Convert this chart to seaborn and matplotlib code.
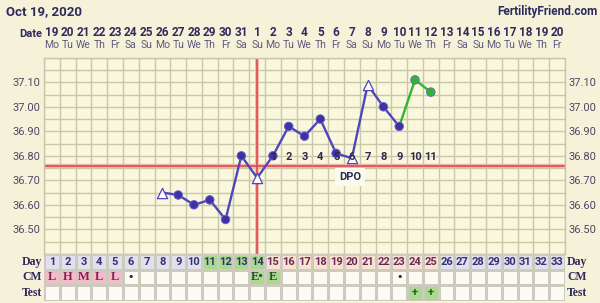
import numpy as np
import pandas as pd
import matplotlib
matplotlib.use("Agg")
import matplotlib.pyplot as plt
import seaborn as sns
from matplotlib.colors import ListedColormap
from matplotlib.transforms import blended_transform_factory

# ---------------- data ----------------
cycle_days = list(range(1, 34))
date_labels = [str(d) for d in range(19, 32)] + [str(d) for d in range(1, 21)]
weekday_labels = (["Mo", "Tu", "We", "Th", "Fr", "Sa", "Su"] * 5)[:33]

temp_days = list(range(8, 26))
temps = [36.65, 36.64, 36.60, 36.62, 36.54, 36.80, 36.71, 36.80, 36.92,
         36.88, 36.95, 36.81, 36.79, 37.09, 37.00, 36.92, 37.11, 37.06]
open_days = [8, 14, 20, 21]
green_days = [23, 24, 25]
coverline = 36.76
ovulation_day = 14

dpo_days = list(range(15, 26))
dpo_labels = [str(i) for i in range(1, 12)]

y_ticks = [36.50, 36.60, 36.70, 36.80, 36.90, 37.00, 37.10]

day_group = [1] * 10 + [2] * 4 + [3] * 11 + [1] * 8
cm_labels = ["L", "H", "M", "L", "L", "•"] + [""] * 7 + ["E•", "E"] + [""] * 7 + ["•"] + [""] * 10
cm_group = [4] * 5 + [0] * 8 + [2] * 2 + [0] * 18
test_labels = [""] * 23 + ["+", "+"] + [""] * 8
test_group = [0] * 23 + [2] * 2 + [0] * 8

# ---------------- style ----------------
sns.set_style("white")
plt.rcParams["font.family"] = ["Roboto", "DejaVu Sans"]

W, H = 600, 303
bg = "#f6f2da"
plot_bg = "#faf8dc"
grid_c = "#c9c6aa"
navy = "#2e2a5c"
line_blue = "#4f45bd"
dot_blue = "#3d33a6"
green = "#2fb52f"

fig = plt.figure(figsize=(W / 100, H / 100), dpi=100, facecolor=bg)

top_px, bot_px = 57.8, 253.8
ax = fig.add_axes([44 / W, (H - bot_px) / H, 521 / W, (bot_px - top_px) / H])
ax.set_facecolor(plot_bg)

df = pd.DataFrame({"day": temp_days, "temp": temps})
df["phase"] = np.where(df["day"].isin([24, 25]), "g", "b")

blue_part = df[df["day"] <= 23]
green_part = df[df["day"].isin(green_days)]
sns.lineplot(data=blue_part, x="day", y="temp", color=line_blue, lw=1.7, ax=ax, zorder=3)
sns.lineplot(data=green_part, x="day", y="temp", color=green, lw=1.7, ax=ax, zorder=3)

circ = df[~df["day"].isin(open_days)]
sns.scatterplot(data=circ, x="day", y="temp", hue="phase",
                palette={"b": dot_blue, "g": green}, s=38, edgecolor="#6a62c8",
                linewidth=0.6, legend=False, ax=ax, zorder=4)
tri = df[df["day"].isin(open_days)]
sns.scatterplot(data=tri, x="day", y="temp", marker="^", s=55, color="#fbfbff",
                edgecolor=line_blue, linewidth=0.9, legend=False, ax=ax, zorder=4)

# coverline & ovulation line
ax.axhline(coverline, color="#f4b4b0", lw=3.2, zorder=1.8)
ax.axhline(coverline, color="#dc4c4c", lw=1.2, zorder=1.9)
ax.axvline(ovulation_day, color="#f4b4b0", lw=2.8, zorder=1.8)
ax.axvline(ovulation_day, color="#dc4c4c", lw=1.2, zorder=1.9)

ax.set_xlim(0.5, 33.5)
ax.set_ylim(36.40, 37.20)
ax.set_xticks(np.arange(0.5, 34, 1))
ax.set_xticklabels([])
ax.set_yticks(y_ticks)
ax.set_yticklabels([f"{v:.2f}" for v in y_ticks])
ax.set_yticks(np.arange(36.40, 37.201, 0.05), minor=True)
ax.tick_params(which="both", length=0)
ax.tick_params(axis="y", labelleft=True, labelright=True, labelsize=8,
               labelcolor="#4a4868", pad=2.5)
ax.grid(True, which="both", color=grid_c, lw=1.0)
ax.set_axisbelow(True)
for s in ax.spines.values():
    s.set_color(grid_c)
    s.set_linewidth(1.0)
ax.set_xlabel("")
ax.set_ylabel("")

# DPO numbers
for d, lab in zip(dpo_days, dpo_labels):
    ax.text(d, 36.795, lab, ha="center", va="center", fontsize=8,
            fontweight="bold", color="#2a2850", zorder=5)
ax.text(19.9, 36.713, "DPO", ha="center", va="center", fontsize=8,
        fontweight="bold", color="#2a2850", zorder=5,
        bbox=dict(boxstyle="square,pad=0.35", fc="#fbfaee", ec="none"))

# header
trans = blended_transform_factory(ax.transData, fig.transFigure)
for d, lab in zip(cycle_days, date_labels):
    ax.text(d, 1 - 32 / H, lab, transform=trans, ha="center", va="center",
            fontsize=8.5, fontweight="bold", color=navy)
for d, lab in zip(cycle_days, weekday_labels):
    ax.text(d, 1 - 44.5 / H, lab, transform=trans, ha="center", va="center",
            fontsize=7.5, color="#5a5a7c")
fig.text(42 / W, 1 - 34 / H, "Date", ha="right", va="center", fontsize=8,
         fontweight="bold", color=navy)
fig.text(6 / W, 1 - 12 / H, "Oct 19, 2020", ha="left", va="center", fontsize=9.5,
         fontweight="bold", color=navy)
fig.text(598 / W, 1 - 12 / H, "FertilityFriend.com", ha="right", va="center",
         fontsize=8.5, fontweight="bold", color=navy)

# table
tab_top, tab_bot = 254.0, 301.0
tax = fig.add_axes([44 / W, (H - tab_bot) / H, 521 / W, (tab_bot - tab_top) / H])
cat = np.array([day_group, cm_group, test_group])
annot = np.array([[str(d) for d in cycle_days], cm_labels, test_labels])
cell_colors = ["#fbfbf4", "#e2e0ee", "#a9db8f", "#f9e2cf", "#f2bccb"]
sns.heatmap(cat, cmap=ListedColormap(cell_colors), vmin=-0.5, vmax=4.5, cbar=False,
            linewidths=1.0, linecolor="#cdcbbd", annot=annot, fmt="",
            annot_kws={"fontsize": 8, "fontweight": "bold"},
            xticklabels=False, yticklabels=False, ax=tax)
for t in tax.texts:
    x, y = t.get_position()
    col, row = int(x), int(y)
    g = cat[row, col]
    if row == 0:
        t.set_color("#6b2a5c" if g == 3 else "#34326e")
        t.set_fontsize(8)
    elif row == 1:
        t.set_family(["Liberation Serif", "DejaVu Serif"])
        t.set_fontsize(9)
        t.set_color("#8a2050" if g == 4 else ("#2d4a3a" if g == 2 else "#2a2850"))
    else:
        t.set_color("#2d5a2d")
        t.set_fontsize(8)

row_names = ["Day", "CM", "Test"]
row_h = (tab_bot - tab_top) / 3
for i, name in enumerate(row_names):
    yc = 1 - (tab_top + row_h * (i + 0.5)) / H
    fig.text(42 / W, yc, name, ha="right", va="center", fontsize=8.5,
             fontweight="bold", color=navy, family=["Liberation Serif", "DejaVu Serif"])
    fig.text(567 / W, yc, name, ha="left", va="center", fontsize=8.5,
             fontweight="bold", color=navy, family=["Liberation Serif", "DejaVu Serif"])

fig.savefig("out.png", dpi=100, facecolor=bg)
